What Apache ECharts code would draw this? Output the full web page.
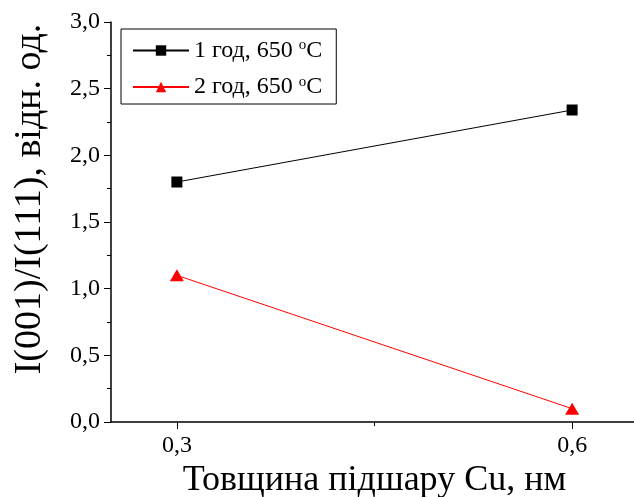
<!DOCTYPE html>
<html>
<head>
    <meta charset="utf-8">
    <script src="https://cdn.jsdelivr.net/npm/echarts@6/dist/echarts.min.js"></script>
</head>
<body style="margin:0">
    <div id="myChart" style="width: 634px;height:497px;"></div>
    <script>
        var thickness = [0.3, 0.6];
        var oneHour = [1.80, 2.34];
        var twoHours = [1.10, 0.10];
        var seriesNames = ['1 год, 650 °C', '2 год, 650 °C'];

        var myChart = echarts.init(document.getElementById('myChart'));
        var font = 'Liberation Serif';
        var comma = v => v.toFixed(1).replace('.', ',');

        var option = {
            animation: false,
            textStyle: { fontFamily: font },
            grid: { left: 111, top: 22, right: -4, bottom: 75, outerBoundsMode: 'none', containLabel: false },
            legend: {
                orient: 'vertical',
                left: 121, top: 29,
                padding: [9, 14, 5, 11],
                itemGap: 12,
                itemWidth: 56, itemHeight: 13,
                borderColor: '#000', borderWidth: 1,
                data: seriesNames,
                formatter: name => '{a|' + name.replace('°C', '') + '}{s|o}{a|C}',
                textStyle: {
                    rich: {
                        a: { fontFamily: font, fontSize: 24, color: '#000' },
                        s: { fontFamily: font, fontSize: 15, color: '#000', verticalAlign: 'top', padding: [0, 0, 10, 0] }
                    }
                }
            },
            xAxis: [{
                type: 'value',
                min: 0.25, max: 0.65,
                name: 'Товщина підшару Cu, нм',
                nameLocation: 'middle',
                nameGap: 40,
                nameTextStyle: { fontFamily: font, fontSize: 36, color: '#000' },
                axisLine: { lineStyle: { color: '#000', width: 1.5 } },
                axisTick: { customValues: thickness, length: 7, lineStyle: { color: '#000' } },
                axisLabel: { customValues: thickness, formatter: comma, fontSize: 24, color: '#000', margin: 12 },
                splitLine: { show: false }
            }, {
                type: 'value',
                position: 'bottom',
                min: 0.25, max: 0.65,
                axisLine: { show: false },
                axisTick: { customValues: [0.45], length: 4, lineStyle: { color: '#000' } },
                axisLabel: { show: false },
                splitLine: { show: false }
            }],
            yAxis: {
                type: 'value',
                min: 0, max: 3, interval: 0.5,
                name: 'I(001)/I(111), відн. од.',
                nameLocation: 'middle',
                nameGap: 62,
                nameTextStyle: { fontFamily: font, fontSize: 38, color: '#000', padding: [0, 0, 0, 46] },
                axisLine: { show: true, lineStyle: { color: '#000', width: 1.5 } },
                axisTick: { show: true, length: 7, lineStyle: { color: '#000' } },
                minorTick: { show: true, splitNumber: 2, length: 4, lineStyle: { color: '#000' } },
                axisLabel: { formatter: comma, fontSize: 24, color: '#000', margin: 11 },
                splitLine: { show: false }
            },
            series: [{
                name: seriesNames[0],
                type: 'line',
                data: thickness.map((x, i) => [x, oneHour[i]]),
                symbol: 'rect', symbolSize: 11,
                lineStyle: { color: '#000', width: 1 },
                itemStyle: { color: '#000' }
            }, {
                name: seriesNames[1],
                type: 'line',
                data: thickness.map((x, i) => [x, twoHours[i]]),
                symbol: 'triangle', symbolSize: [14, 12],
                lineStyle: { color: '#ff0000', width: 1 },
                itemStyle: { color: '#ff0000' }
            }]
        };
        myChart.setOption(option);
    </script>
</body>
</html>
